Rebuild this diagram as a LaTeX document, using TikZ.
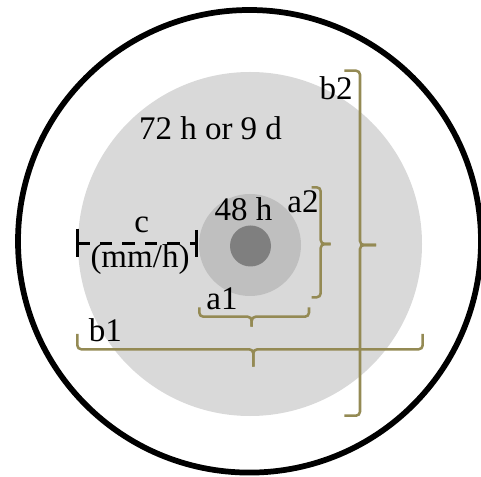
\documentclass[tikz,border=0pt]{standalone}
\usepackage{fontspec}
\setmainfont{Liberation Serif}
\definecolor{olivebr}{HTML}{948A54}
\definecolor{graylight}{HTML}{D9D9D9}
\definecolor{graymid}{HTML}{BFBFBF}
\definecolor{graydark}{HTML}{7F7F7F}
\tikzstyle{every node}=[font=\fontsize{24.75pt}{30pt}\selectfont, inner sep=0pt]
\tikzset{olivebrace/.style={olivebr, line width=1.9pt, rounded corners=3pt}}
\begin{document}
\begin{tikzpicture}[x=0.75pt,y=0.75pt]
	            \useasboundingbox (-250,-233) rectangle (231,244);

	            % Kruhy
	            \fill[graylight] (0,0) circle (172);
	            \fill[graymid] (0,-1) circle (51);
	            \fill[graydark] (0.5,-2) circle (20.5);
	            \draw[line width=4.3pt] (-0.5,2.7) ellipse (231.5 and 231.3);

	            % Popisky
	            \node[anchor=base] (outer) at (-39.5,104) {72 h or 9 d};
	            \node[anchor=base] (inner) at (-6.5,23.3) {48 h};
	            \node[anchor=base] (lbla2) at (53,31) {a2};
	            \node[anchor=base] (lbla1) at (-28,-66) {a1};
	            \node[anchor=base] (lblb1) at (-144.5,-98) {b1};
	            \node[anchor=base] (lblb2) at (86,144) {b2};
	            \node[anchor=base] (lblc) at (-108.3,11) {c};
	            \node[anchor=base] (unit) at (-110,-24) {(mm/h)};

	            % Kóta c
	            \coordinate (cL) at (-172.7,0.7);
	            \coordinate (cR) at (-53.3,0.7);
	            \draw[line width=2.3pt] ([yshift=11pt]cL) -- ([yshift=-10pt]cL);
	            \draw[line width=2.3pt] ([yshift=10pt]cR) -- ([yshift=-10pt]cR);
	            \draw[line width=1.9pt, dash pattern=on 9.4pt off 7.5pt] (cL) -- (cR);

	            % Závorky a1, a2
	            \draw[olivebrace] (-50.7,-63.3) -- (-50.7,-72.7) -- (1.7,-72.7) -- (1.7,-82.7);
	            \draw[olivebrace] (59,-63.3) -- (59,-72.7) -- (1.7,-72.7) -- (1.7,-82.7);
	            \draw[olivebrace] (61.7,56.7) -- (70.7,56.7) -- (70.7,0) -- (80.7,0);
	            \draw[olivebrace] (61.7,-53.3) -- (70.7,-53.3) -- (70.7,0) -- (80.7,0);

	            % Závorky b1, b2
	            \draw[olivebrace] (-172.7,-90) -- (-172.7,-105.3) -- (3.3,-105.3) -- (3.3,-122.7);
	            \draw[olivebrace] (172.7,-90) -- (172.7,-105.3) -- (3.3,-105.3) -- (3.3,-122.7);
	            \draw[olivebrace] (94.3,173.3) -- (110,173.3) -- (110,-1) -- (126,-1);
	            \draw[olivebrace] (94.3,-171.7) -- (110,-171.7) -- (110,-1) -- (126,-1);
	        \end{tikzpicture}
\end{document}
